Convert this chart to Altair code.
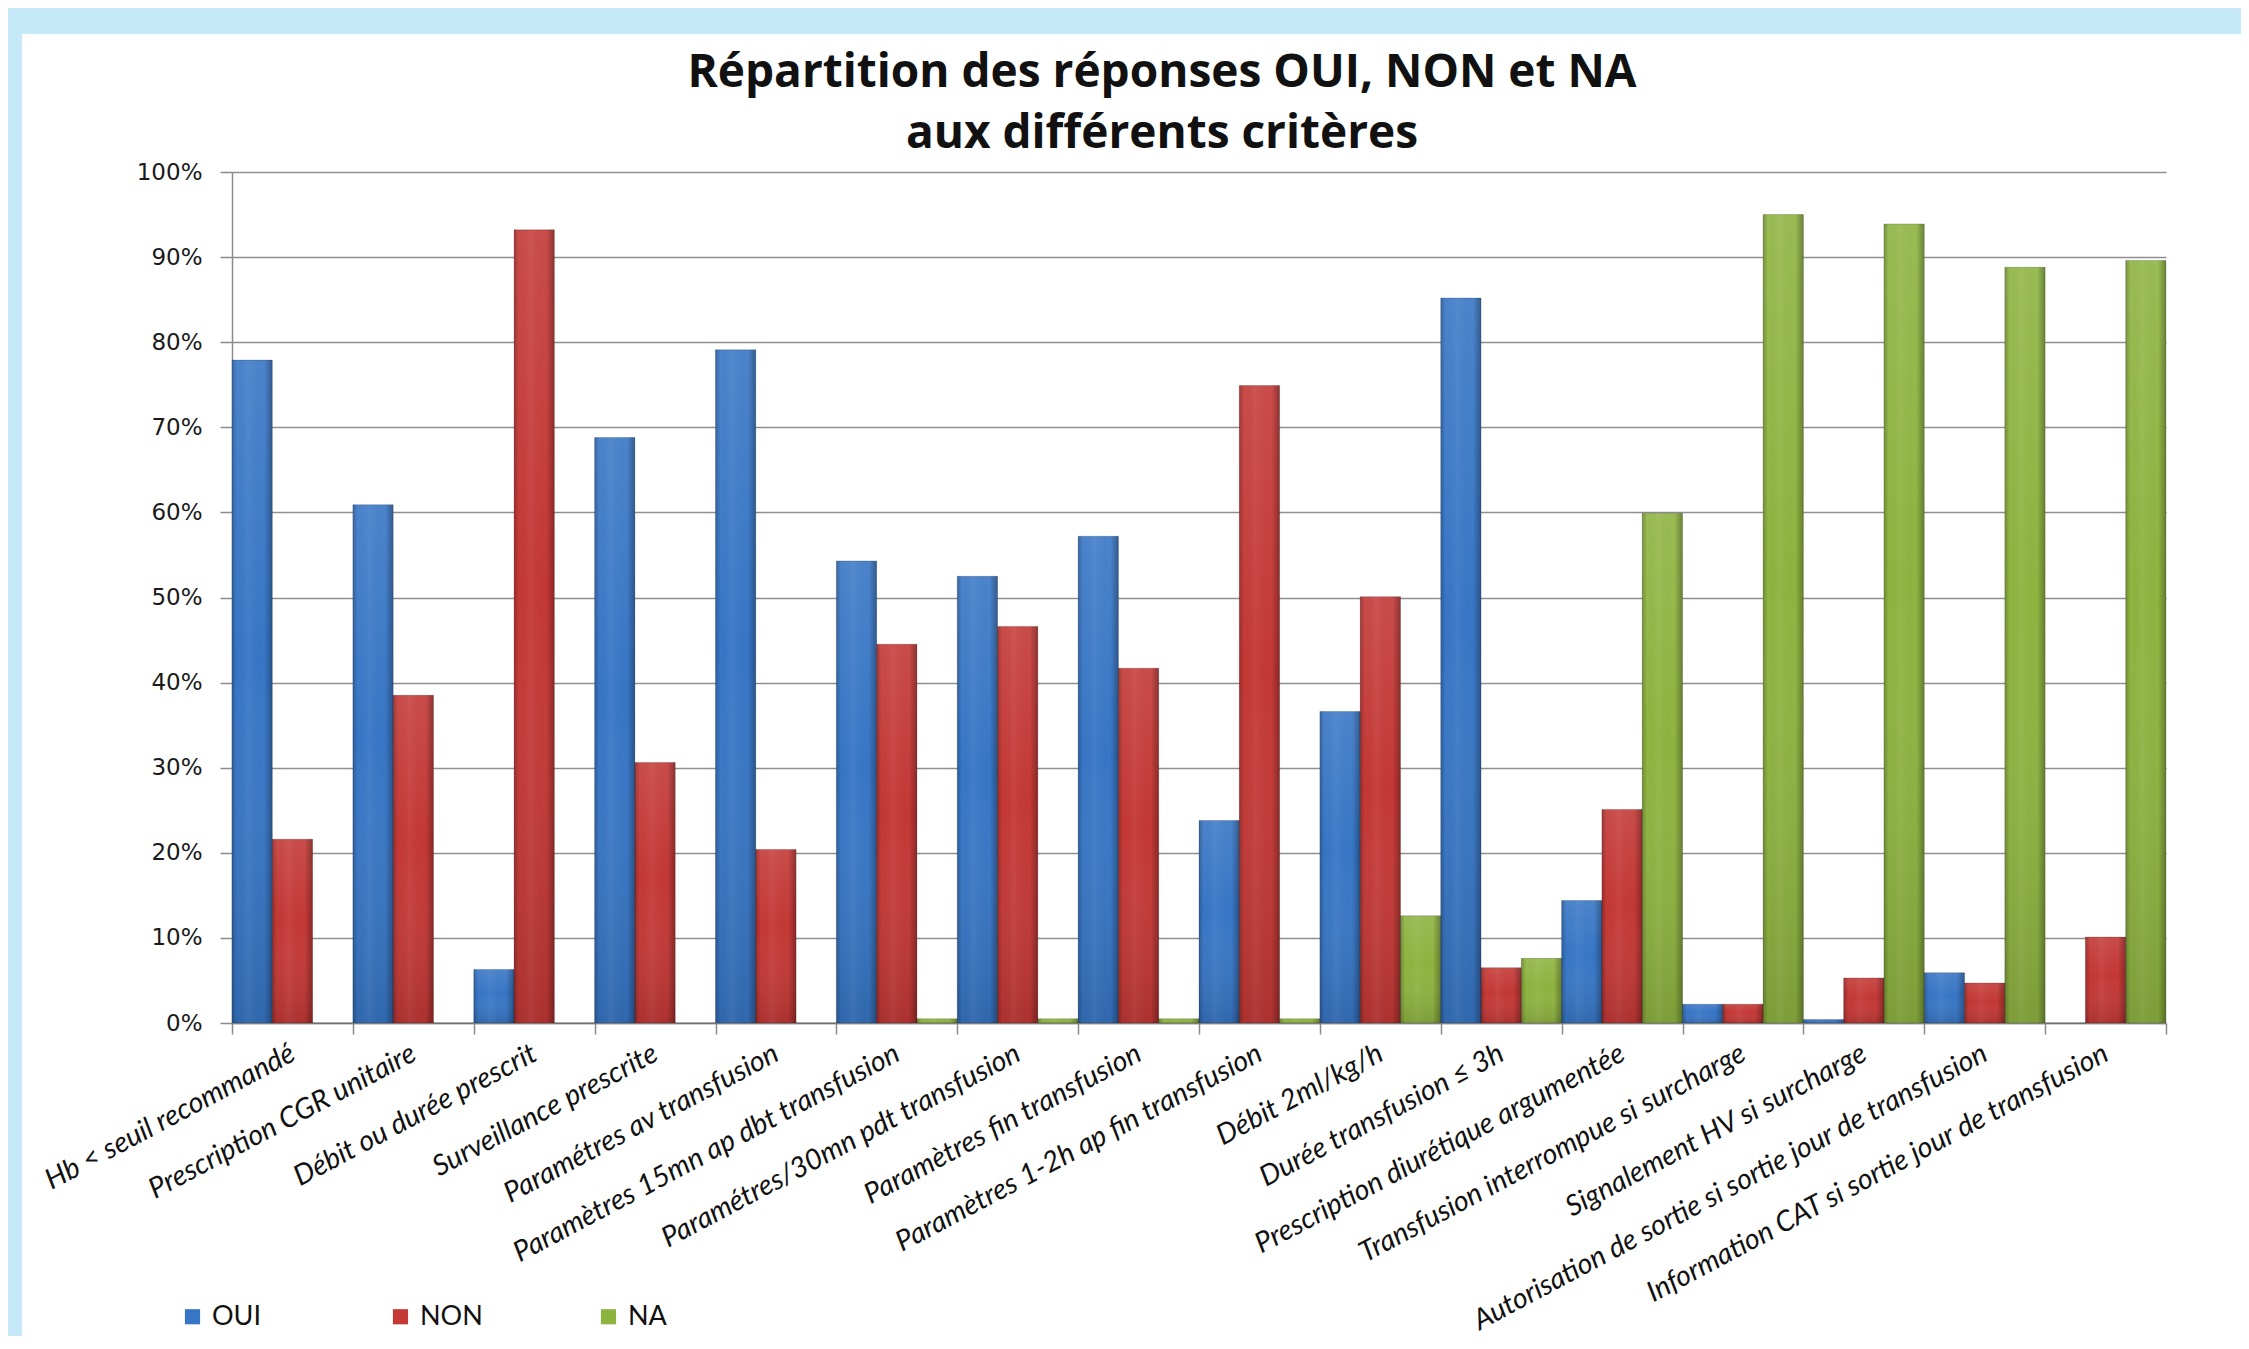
import altair as alt
import pandas as pd

categories = [
    "Hb < seuil recommandé",
    "Prescription CGR unitaire",
    "Débit ou durée prescrit",
    "Surveillance prescrite",
    "Paramétres av transfusion",
    "Paramètres 15mn ap dbt transfusion",
    "Paramétres/30mn pdt transfusion",
    "Paramètres fin transfusion",
    "Paramètres 1-2h ap fin transfusion",
    "Débit 2ml/kg/h",
    "Durée  transfusion ≤ 3h",
    "Prescription diurétique argumentée",
    "Transfusion interrompue si surcharge",
    "Signalement HV si surcharge",
    "Autorisation de sortie si sortie jour de transfusion",
    "Information CAT si sortie jour de transfusion",
]
series = ["OUI", "NON", "NA"]
oui = [77.9, 60.9, 6.3, 68.8, 79.1, 54.3, 52.5, 57.2, 23.8, 36.6, 85.2, 14.4, 2.2, 0.4, 5.9, 0.0]
non = [21.6, 38.5, 93.2, 30.6, 20.4, 44.5, 46.6, 41.7, 74.9, 50.1, 6.5, 25.1, 2.2, 5.3, 4.7, 10.1]
na = [0.0, 0.0, 0.0, 0.0, 0.0, 0.5, 0.5, 0.5, 0.5, 12.6, 7.6, 59.9, 95.0, 93.9, 88.8, 89.6]
colors = ["#3776C6", "#C43835", "#8EB440"]

rows = []
for i, c in enumerate(categories):
    for s, vals in zip(series, (oui, non, na)):
        rows.append({"critere": c, "serie": s, "valeur": vals[i]})
df = pd.DataFrame(rows)

x = alt.X(
    "critere:N",
    sort=categories,
    title=None,
    scale=alt.Scale(paddingInner=0, paddingOuter=0),
    axis=alt.Axis(
        labelAngle=-28,
        labelFont="Lato",
        labelFontStyle="italic",
        labelFontSize=28.5,
        labelColor="#111111",
        labelLimit=1000,
        labelAlign="right",
        labelBaseline="middle",
        labelPadding=17,
        tickBand="extent",
        tickSize=11,
        tickColor="#8a8a8a",
        tickWidth=1.5,
        domainColor="#8a8a8a",
        domainWidth=1.5,
        grid=False,
    ),
)
xo = alt.XOffset("serie:N", sort=series, scale=alt.Scale(paddingInner=0, paddingOuter=0))
y = alt.Y(
    "valeur:Q",
    title=None,
    scale=alt.Scale(domain=[0, 100], nice=False),
    axis=alt.Axis(
        values=list(range(0, 101, 10)),
        labelExpr="datum.value + '%'",
        labelFont="DejaVu Sans",
        labelFontSize=23,
        labelColor="#1a1a1a",
        labelPadding=18,
        tickSize=12,
        tickColor="#8a8a8a",
        tickWidth=1.5,
        domainColor="#8a8a8a",
        domainWidth=1.5,
        grid=True,
        gridColor="#8f8f8f",
        gridWidth=1.5,
    ),
)

base = alt.Chart(df).mark_bar(stroke=None).encode(
    x=x,
    xOffset=xo,
    y=y,
    color=alt.Color(
        "serie:N",
        sort=series,
        scale=alt.Scale(domain=series, range=colors),
        legend=alt.Legend(
            title=None,
            orient="none",
            legendX=-53,
            legendY=1131,
            direction="horizontal",
            symbolType="square",
            symbolSize=230,
            symbolStrokeWidth=0,
            labelFont="Lato",
            labelFontSize=27,
            labelColor="#111111",
            labelOffset=6,
            columnPadding=112,
            gridAlign="all",
        ),
    ),
)

vgrad = alt.Gradient(
    gradient="linear",
    x1=0, x2=0, y1=0, y2=1,
    stops=[
        alt.GradientStop(color="rgba(255,255,255,0.10)", offset=0),
        alt.GradientStop(color="rgba(255,255,255,0.0)", offset=0.45),
        alt.GradientStop(color="rgba(0,0,0,0.12)", offset=1),
    ],
)
hgrad = alt.Gradient(
    gradient="linear",
    x1=0, x2=1, y1=0, y2=0,
    stops=[
        alt.GradientStop(color="rgba(0,0,0,0.22)", offset=0),
        alt.GradientStop(color="rgba(0,0,0,0.0)", offset=0.12),
        alt.GradientStop(color="rgba(255,255,255,0.05)", offset=0.4),
        alt.GradientStop(color="rgba(0,0,0,0.0)", offset=0.8),
        alt.GradientStop(color="rgba(0,0,0,0.3)", offset=1),
    ],
)
shade_v = alt.Chart(df).mark_bar(fill=vgrad, stroke=None).encode(x=x, xOffset=xo, y=y)
shade_h = alt.Chart(df).mark_bar(fill=hgrad, stroke="rgba(0,0,0,0.18)", strokeWidth=1).encode(x=x, xOffset=xo, y=y)

strip_top = alt.Chart(alt.Data(values=[{}])).mark_rect(color="#C6E9F9").encode(
    x=alt.value(-224), x2=alt.value(2010), y=alt.value(-164), y2=alt.value(-138)
)
strip_left = alt.Chart(alt.Data(values=[{}])).mark_rect(color="#C6E9F9").encode(
    x=alt.value(-224), x2=alt.value(-210), y=alt.value(-164), y2=alt.value(1166)
)

chart = alt.layer(base, shade_v, shade_h, strip_top, strip_left).properties(
    width=1934,
    height=851,
    title=alt.TitleParams(
        ["Répartition des réponses OUI, NON et NA", "aux différents critères"],
        font="Open Sans",
        fontSize=46,
        fontWeight="bold",
        color="#111111",
        lineHeight=61,
        anchor="middle",
        dx=-37,
        dy=150,
        offset=0,
    ),
    autosize=alt.AutoSizeParams(type="none"),
    padding={"left": 224, "top": 164, "right": 75, "bottom": 313},
).configure(background="white").configure_view(stroke=None)

chart.save("out.html", embed_options={"renderer": "svg", "actions": False})
